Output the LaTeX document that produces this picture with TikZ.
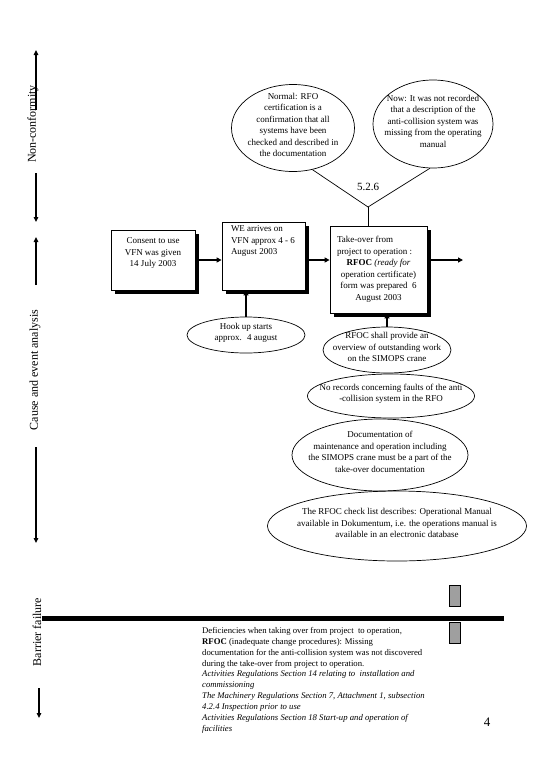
\documentclass[tikz,border=0pt]{standalone}
\usepackage{fontspec}
\setmainfont{Liberation Serif}
\usetikzlibrary{arrows.meta,shapes.geometric,shadows}

% text of a bubble, kept out of the ellipse size
\newcommand{\elltxt}[1]{\makebox[0pt]{\smash{\begin{tabular}{@{}c@{}}#1\end{tabular}}}}

\begin{document}
\begin{tikzpicture}[x=1pt, y=-1pt,
  every node/.style={font=\fontsize{9}{11.5}\selectfont},
  side/.style={rotate=90, font=\fontsize{12}{14}\selectfont, inner sep=1pt},
  axis/.style={line width=1.4pt, -{Triangle[length=5pt,width=4.5pt]}},
  flow/.style={line width=1.6pt, -{Triangle[length=5pt,width=5pt]}},
  stepbox/.style={draw, fill=white, inner sep=0pt, line width=0.8pt,
    drop shadow={shadow xshift=3.5pt, shadow yshift=-3.5pt, fill=black, opacity=1}},
  bubble/.style={draw, ellipse, inner sep=0pt, line width=0.7pt},
  gate/.style={draw, fill=gray!75, minimum width=11pt, minimum height=21pt, inner sep=0pt}]
  \useasboundingbox (0,0) rectangle (540,780);

  % left axis
  \node[side] (nc) at (33,124) {Non-conformity};
  \coordinate (nctop) at (36,50); \coordinate (ncup) at (36,110);
  \coordinate (ncdown) at (36,173); \coordinate (ncend) at (36,222);
  \draw[axis] (ncup) -- (nctop);
  \draw[axis] (ncdown) -- (ncend);
  \node[side] (cea) at (35,370) {Cause and event analysis};
  \coordinate (ceatop) at (36,237); \coordinate (ceaup) at (36,285);
  \coordinate (ceadown) at (36,447); \coordinate (ceaend) at (36,543);
  \draw[axis] (ceaup) -- (ceatop);
  \draw[axis] (ceadown) -- (ceaend);
  \node[side] (bf) at (37,632) {Barrier failure};
  \coordinate (bfdown) at (39,688); \coordinate (bfend) at (39,718);
  \draw[axis] (bfdown) -- (bfend);

  % non-conformity bubbles
  \node[bubble, minimum width=123pt, minimum height=87pt] (normal) at (293,128)
    {\elltxt{Normal: RFO\\certification is a\\confirmation that all\\systems have been\\checked and described in\\the documentation}};
  \node[bubble, minimum width=120pt, minimum height=88pt] (nowe) at (433,124)
    {\elltxt{Now: It was not recorded\\that a description of the\\anti-collision system was\\missing from the operating\\manual}};
  \node[font=\fontsize{11}{13}\selectfont] (sec) at (368,187) {5.2.6};
  \coordinate (fork) at (368,207);
  \draw[line width=0.7pt] (normal.-65) -- (fork) -- (nowe.-94);

  % event chain
  \node[stepbox] (consent) at (153,260)
    {\parbox[c][60pt][t]{84pt}{\centering\vspace*{8pt}Consent to use\\VFN was given\\14 July 2003}};
  \node[stepbox] (arrive) at (263.5,256)
    {\parbox[c][68pt][t]{83pt}{\raggedright\leftskip=9pt\vspace*{4pt}WE arrives on\\VFN approx 4 - 6\\August 2003}};
  \node[stepbox] (takeover) at (378.5,269.5)
    {\parbox[c][87pt][c]{97pt}{{\leftskip=7pt Take-over from\\project to operation :\par}%
     {\centering\textbf{RFOC} \textit{(ready for}\\operation certificate)\\form was prepared~ 6\\August 2003\par}}};
  \coordinate (exit) at (463,260);
  \draw[line width=0.7pt] (fork) -- (fork |- takeover.north);
  \draw[flow] (consent.east) -- (consent.east -| arrive.west);
  \draw[flow] (arrive.east |- consent.east) -- (consent.east -| takeover.west);
  \draw[flow] (takeover.east |- consent.east) -- (exit);

  % causes
  \node[bubble, minimum width=118pt, minimum height=36pt] (hook) at (246,335)
    {\elltxt{Hook up starts\\approx.~ 4 august}};
  \node[bubble, minimum width=128pt, minimum height=46pt] (rfocs) at (387,350)
    {\elltxt{RFOC shall provide an\\overview of outstanding work\\on the SIMOPS crane}};
  \node[bubble, minimum width=167pt, minimum height=44pt] (norec) at (391,396)
    {\elltxt{No records concerning faults of the anti\\-collision system in the RFO}};
  \node[bubble, minimum width=176pt, minimum height=72pt] (docum) at (380,455)
    {\elltxt{Documentation of\\maintenance and operation including\\the SIMOPS crane must be a part of the\\take-over documentation}};
  \node[bubble, minimum width=259pt, minimum height=70pt] (check) at (397,526)
    {\elltxt{The RFOC check list describes: Operational Manual\\available in Dokumentum, i.e. the operations manual is\\available in an electronic database}};
  \draw[flow] (hook.north) -- (hook.north |- arrive.south);
  \draw[flow] (rfocs.north) -- (rfocs.north |- takeover.south);

  % barrier
  \coordinate (barl) at (42,618); \coordinate (barr) at (504,618);
  \draw[line width=5pt] (barl) -- (barr);
  \node[gate] (gateup) at (455,595.5) {};
  \node[gate] (gatedown) at (455,633) {};
  \node[anchor=north west, align=left, inner sep=0pt, font=\fontsize{8.7}{10.9}\selectfont] (failure) at (202,627)
    {Deficiencies when taking over from project~ to operation,\\
     \textbf{RFOC} (inadequate change procedures): Missing\\
     documentation for the anti-collision system was not discovered\\
     during the take-over from project to operation.\\
     \textit{Activities Regulations Section 14 relating to~ installation and}\\
     \textit{commissioning}\\
     \textit{The Machinery Regulations Section 7, Attachment 1, subsection}\\
     \textit{4.2.4 Inspection prior to use}\\
     \textit{Activities Regulations Section 18 Start-up and operation of}\\
     \textit{facilities}};
  \node[font=\fontsize{13}{15}\selectfont] (pageno) at (487,722) {4};
\end{tikzpicture}
\end{document}
